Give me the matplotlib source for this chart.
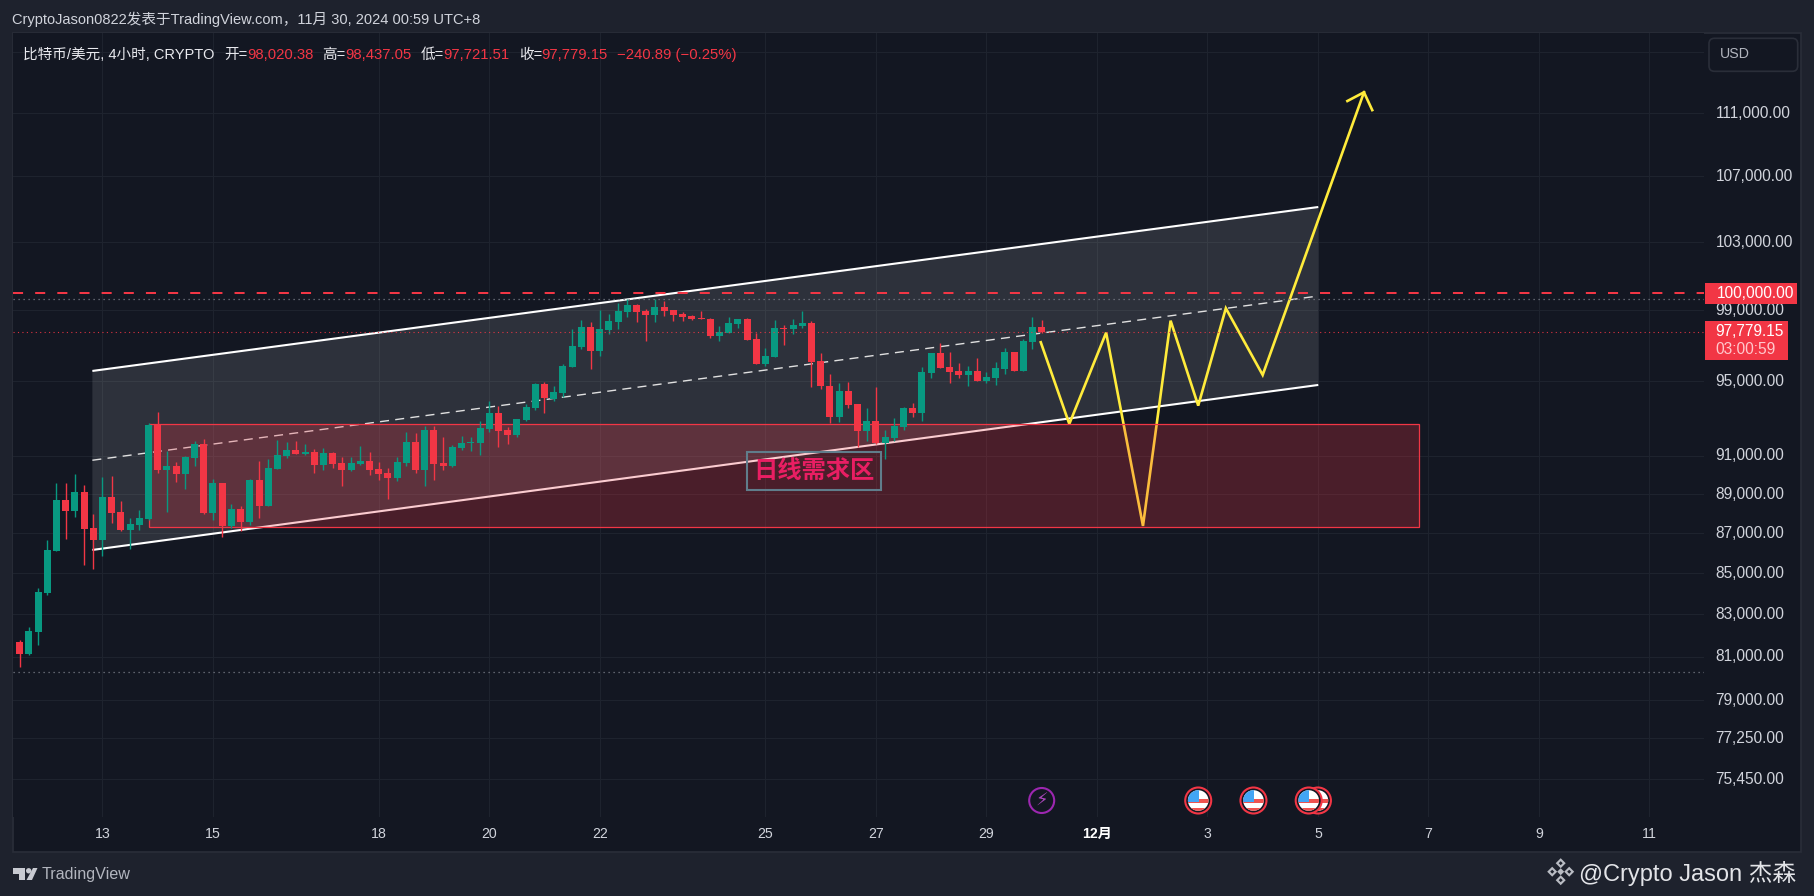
import numpy as np
import matplotlib
matplotlib.use("Agg")
import matplotlib.pyplot as plt
from matplotlib.patches import Rectangle, Polygon, Circle, FancyBboxPatch
from matplotlib.transforms import IdentityTransform, ScaledTranslation
from matplotlib.ticker import NullLocator

plt.rcParams['font.family'] = ['Liberation Sans', 'Noto Sans CJK SC', 'DejaVu Sans']

W, H = 1814, 896
BG, PANEL, BORDER, GRID = '#1e222d', '#131722', '#2a2e39', '#1e232e'
RED, GREEN, YELLOW = '#f23645', '#089981', '#ffeb3b'

first_index = -10
opens = [81000,81690,81120,82170,84040,86110,88700,88130,89110,87270,
 86660,88850,88080,87170,87420,87720,92640,90250,90460,90040,
 90880,91620,88030,89570,87370,88235,87570,89730,88390,90300,
 90990,91300,91090,91200,90510,91145,90620,90250,90570,90720,
 90300,90100,89830,90620,91730,90250,92370,90620,90460,91410,
 91670,91670,92420,93280,92370,92100,92900,93550,94860,94040,
 94370,95800,96920,98050,96700,97880,98330,98900,99300,98960,
 98730,99190,99020,98790,98675,98560,98500,97540,97710,98220,
 98500,97370,95970,96360,97990,97935,98100,98270,96130,94750,
 93070,94480,93770,92320,92850,91670,91940,92530,93550,93280,
 95470,96580,95800,95580,95360,95580,95030,95190,95690,96640,
 95580,97200,98020.38]
highs = [81690,81780,82400,84290,86660,89570,89570,90040,89470,87980,
 89890,89940,88640,87775,88180,92740,93340,91250,90670,90990,
 91780,91890,89780,89570,88490,88390,89780,90720,90830,91830,
 91730,91780,91620,91360,91410,91200,90930,90930,91520,91200,
 90670,90360,90930,92260,92210,92580,92580,91990,91570,92050,
 91990,92850,93930,93660,92530,92960,93770,94920,94970,94750,
 95970,97935,98445,98330,99020,98790,99420,99650,99360,99075,
 99650,99535,99020,98900,98730,98960,98560,98100,98620,98500,
 98560,97710,96860,98445,98160,98500,98960,98390,96580,95410,
 94920,94970,93770,93550,94700,92370,93010,93600,93820,95800,
 96580,97140,96640,96020,95860,96300,95525,96080,96860,96640,
 97370,98620,98437.05]
lows = [80370,80510,81075,81550,83950,86110,86710,87830,85420,85220,
 85860,87520,87120,86210,87170,87670,90100,88080,89630,89260,
 90460,87980,87670,86810,87270,87120,87420,87775,88390,90300,
 90880,91090,91040,90100,90250,90360,89420,90200,90510,89990,
 89730,88750,89680,90460,90100,89420,89730,90250,90410,91300,
 91250,91040,92260,91460,91620,91990,92850,93445,93280,93930,
 94150,95800,96810,95690,96410,97650,97935,98620,98330,97255,
 98330,98675,98390,98390,98445,98500,97425,97255,97710,97990,
 97310,95970,95860,96360,97030,97650,97990,94700,94590,92740,
 92800,93550,91460,91780,91620,90830,91780,92370,93070,92850,
 95190,95750,94920,95190,94750,95030,94920,94810,95410,95580,
 95580,96810,97721.51]
closes = [81000,81120,82210,84090,86160,88700,88130,89110,87220,86660,
 88850,88030,87170,87470,87775,92640,90250,90460,90040,90930,
 91620,88030,89570,87370,88235,87570,89730,88390,90360,91040,
 91300,91090,91200,90510,91145,90570,90250,90620,90720,90250,
 90040,89830,90670,91730,90250,92370,90570,90460,91460,91670,
 91730,92480,93280,92320,92100,92960,93600,94860,94100,94430,
 95860,96975,98050,96700,97935,98390,98960,99300,98900,98730,
 99190,98960,98730,98620,98500,98500,97540,97770,98270,98500,
 97310,95970,96410,97990,97935,98160,98270,96080,94750,93070,
 94480,93710,92320,92850,91670,91990,92580,93550,93280,95525,
 96580,95750,95525,95360,95580,95030,95250,95750,96640,95580,
 97255,98050,97779.15]

price_ticks = [115000,111000,107000,103000,99000,95000,91000,89000,87000,85000,83000,81000,79000,77250,75450]
price_labels = ['','111,000.00','107,000.00','103,000.00','99,000.00','95,000.00','91,000.00','89,000.00',
                '87,000.00','85,000.00','83,000.00','81,000.00','79,000.00','77,250.00','75,450.00']
time_ticks = [0,12,30,42,54,72,84,96,108,120,132,144,156,168]
time_labels = ['13','15','18','20','22','25','27','29','12月','3','5','7','9','11']

channel_x = [-1.1, 132.04]
channel_top = [95580, 105105]
channel_mid = [90760, 99822]
channel_bot = [86163, 94807]
zone_x = [5, 143]
zone_y = [87304, 92672]
path_x = [101.9,105,109,113,116,119,122,126,137]
path_y = [97182,92690,97725,87370,98405,93678,99115,95358,112328]
arrow_x = [135.2,137,137.9]
arrow_y = [111762,112328,111175]
level_round = 100000
level_last = 97779.15
level_upper = 99635
level_lower = 80270
flag_events = [132,131,125,119]
bolt_event = 102

def fx(px): return px / W
def fy(py): return 1 - py / H

fig = plt.figure(figsize=(W/100, H/100), dpi=100, facecolor=BG)
fig.add_artist(Rectangle((fx(13), fy(852)), (1801-13)/W, (852-33)/H, transform=fig.transFigure,
                         fc=PANEL, ec=BORDER, lw=1.2, zorder=-5))
ax = fig.add_axes([fx(13), fy(817), (1704-13)/W, (817-33)/H], zorder=1)
ax.set_facecolor(PANEL)
ax.set_yscale('log')
ax.set_xlim(-9.72, 173.93)
ax.set_ylim(73810, 116255)
for s in ax.spines.values():
    s.set_visible(False)

ax.yaxis.tick_right()
ax.set_yticks(price_ticks, price_labels)
ax.yaxis.set_minor_locator(NullLocator())
ax.set_xticks(time_ticks, time_labels)
ax.tick_params(axis='y', length=0, pad=8.2, labelsize=11.2, labelcolor='#d1d4dc')
ax.tick_params(axis='x', length=0, pad=7.5, labelsize=10.2, labelcolor='#d1d4dc')
for lab in ax.get_xticklabels():
    if lab.get_text() == '12月':
        lab.set_fontweight('bold')
        lab.set_color('#ffffff')
up = ScaledTranslation(0, 1.2/100, fig.dpi_scale_trans)
for lab in ax.get_yticklabels():
    lab.set_transform(lab.get_transform() + up)
ax.grid(True, color=GRID, lw=0.8, zorder=0)
ax.set_axisbelow(True)

# channel
ax.add_patch(Polygon([(channel_x[0], channel_top[0]), (channel_x[1], channel_top[1]),
                      (channel_x[1], channel_bot[1]), (channel_x[0], channel_bot[0])],
                     closed=True, fc='white', alpha=0.115, lw=0, zorder=1))
ax.plot(channel_x, channel_top, color='white', lw=1.5, zorder=2, solid_capstyle='butt')
ax.plot(channel_x, channel_bot, color='white', lw=1.5, zorder=2, solid_capstyle='butt')
ax.plot(channel_x, channel_mid, color='#e0e0e0', lw=1.0, ls=(0, (6.5, 4.5)), zorder=2)

# projected path
ax.plot(path_x, path_y, color=YELLOW, lw=1.9, zorder=3, solid_joinstyle='miter')
ax.plot(arrow_x, arrow_y, color=YELLOW, lw=1.9, zorder=3, solid_joinstyle='miter')

# demand zone
ax.add_patch(Rectangle((zone_x[0], zone_y[0]), zone_x[1]-zone_x[0], zone_y[1]-zone_y[0],
                       fc=(242/255, 54/255, 69/255, 0.25), ec=RED, lw=0.9, zorder=4))

# candles
x = np.arange(len(opens)) + first_index
o, h, l, c = map(np.array, (opens, highs, lows, closes))
col = np.where(c >= o, GREEN, RED)
ax.vlines(x, l, h, colors=col, lw=1.0, zorder=5)
ax.bar(x, np.abs(c - o), bottom=np.minimum(o, c), width=0.76, color=col, lw=0, zorder=5.1)

# levels
ax.axhline(level_round, color=RED, lw=1.45, ls=(0, (5, 6)), zorder=6)
ax.axhline(level_last, color=RED, lw=0.8, ls=(0, (1, 3)), zorder=6, alpha=.9)
ax.axhline(level_upper, color='#787b86', lw=0.9, ls=(0, (1, 3)), zorder=6)
ax.axhline(level_lower, color='#787b86', lw=0.9, ls=(0, (1, 3)), zorder=6)

ax.text(77.3, 90196, '日线需求区', color='#e91e63', fontsize=17.5, ha='center', va='center',
        family=['Noto Sans CJK SC'], fontweight='bold', zorder=7,
        bbox=dict(boxstyle='square,pad=0.27', fc='none', ec='#607d8b', lw=1.5))

# event icons
ICON_Y = H - 800.5
ident = IdentityTransform()
def to_px(i):
    return ax.transData.transform((i, 90000))[0]
fig.canvas.draw()
def flag(i, k):
    cx = to_px(i)
    z = 8 + k
    ax.add_patch(Circle((cx, ICON_Y), 13, transform=ident, fc=PANEL, ec=RED, lw=1.5, zorder=z, clip_on=False))
    clip = Circle((cx, ICON_Y), 10.3, transform=ident)
    ax.add_patch(Circle((cx, ICON_Y), 10.3, transform=ident, fc='white', lw=0, zorder=z+.1, clip_on=False))
    for yy, cc in [(ICON_Y+1.5, '#ef5350'), (ICON_Y-7.5, '#ef5350')]:
        p = Rectangle((cx-11, yy-4), 22, 4, transform=ident, fc=cc, lw=0, zorder=z+.2)
        ax.add_patch(p); p.set_clip_path(clip)
    p = Rectangle((cx-11, ICON_Y-1), 11.5, 12, transform=ident, fc='#42a5f5', lw=0, zorder=z+.3)
    ax.add_patch(p); p.set_clip_path(clip)
for k, e in enumerate(flag_events):
    flag(e, k)
bx = to_px(bolt_event)
ax.add_patch(Circle((bx, ICON_Y), 12.5, transform=ident, fc=PANEL, ec='#9c27b0', lw=1.5, zorder=8, clip_on=False))
fig.text(fx(bx), fy(800.5), '⚡', family=['DejaVu Sans'], color='#ab47bc', fontsize=13, ha='center', va='center', zorder=20)

def t(px, py, s, color='#d1d4dc', size=10, **kw):
    return fig.text(fx(px), fy(py), s, color=color, fontsize=size, va='center', zorder=20, **kw)

t(12, 19.5, 'CryptoJason0822发表于TradingView.com，11月 30, 2024 00:59 UTC+8', size=10.5)
WHITE = '#e8e9ee'
t(23.3, 55, '比特币/美元, 4小时, CRYPTO', WHITE, 10.5)
t(224.4, 55, '开=', WHITE, 10.5)
t(247.2, 55, '98,020.38', RED, 10.7)
t(322.3, 55, '高=', WHITE, 10.5)
t(345, 55, '98,437.05', RED, 10.7)
t(420.7, 55, '低=', WHITE, 10.5)
t(443.5, 55, '97,721.51', RED, 10.7)
t(518.7, 55, '收=', WHITE, 10.5)
t(541.4, 55, '97,779.15', RED, 10.7)
t(616.6, 55, '−240.89 (−0.25%)', RED, 10.7)

# right side boxes
fig.add_artist(FancyBboxPatch((fx(1709), fy(71.3)), 88.7/W, 33/H, boxstyle='round,pad=0,rounding_size=0.003',
                              transform=fig.transFigure, fc=PANEL, ec=BORDER, lw=1.2, zorder=9, mutation_aspect=W/H))
t(1720, 54.3, 'USD', '#b2b5be', 10.2)
fig.add_artist(Rectangle((fx(1705), fy(303.7)), 92/W, 20.7/H, transform=fig.transFigure, fc=RED, lw=0, zorder=9))
t(1716.7, 293, '100,000.00', 'white', 11.2)
fig.add_artist(Rectangle((fx(1705), fy(360)), 83/W, 39/H, transform=fig.transFigure, fc=RED, lw=0, zorder=9))
t(1715.7, 331, '97,779.15', 'white', 11.2)
t(1715.7, 349.3, '03:00:59', '#ffc9cd', 11.2)

# TradingView logo
LOGO = '#c8cad1'
for pts in ([(13, 868), (25, 868), (25, 880), (19, 880), (19, 874), (13, 874)],
            [(33, 868), (37.5, 868), (32, 880), (26.5, 880)]):
    fig.add_artist(Polygon([(fx(a), fy(b)) for a, b in pts], transform=fig.transFigure, fc=LOGO, lw=0, zorder=10))
fig.add_artist(Circle((28.7, H-870.8), 2.7, transform=ident, fc=LOGO, lw=0, zorder=10))
t(42, 874.5, 'TradingView', '#b2b5be', 11.6)

# watermark
def diamond(cx, cy, r, color='#b9bcc3'):
    fig.add_artist(Polygon([(fx(cx-r), fy(cy)), (fx(cx), fy(cy-r)), (fx(cx+r), fy(cy)), (fx(cx), fy(cy+r))],
                           transform=fig.transFigure, fc=color, lw=0, zorder=10))
for dx, dy, r in [(0, -8.5, 5), (0, 8.5, 5), (-8.5, 0, 5), (8.5, 0, 5), (0, 0, 3.5)]:
    diamond(1560.7+dx, 871.7+dy, r)
diamond(1560.7, 863.2, 2, BG); diamond(1560.7, 880.2, 2, BG)
diamond(1552.2, 871.7, 2, BG); diamond(1569.2, 871.7, 2, BG)
t(1579, 873, '@Crypto Jason 杰森', '#e3e4e8', 17.0)

fig.savefig('out.png', dpi=100, facecolor=BG)
